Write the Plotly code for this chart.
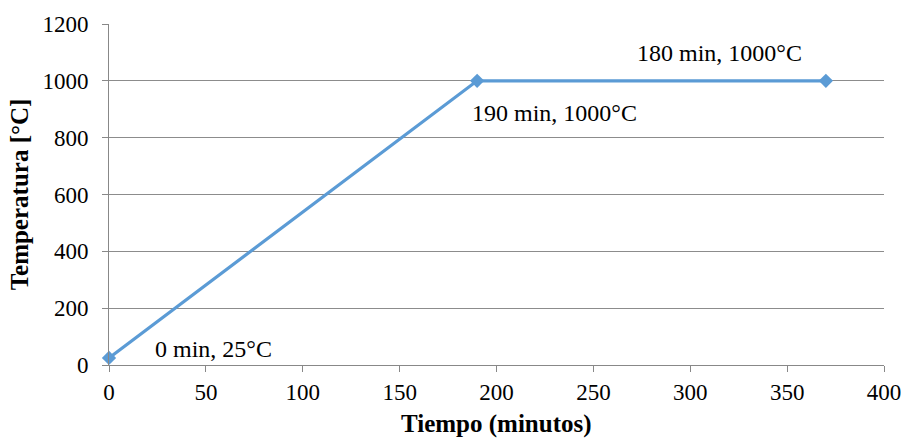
import plotly.graph_objects as go

tiempo = [0, 190, 370]
temperatura = [25, 1000, 1000]
etiquetas = ["0 min, 25°C", "190 min, 1000°C", "180 min, 1000°C"]
# label offsets in pixels (dx, dy)
offsets = [(104, 9), (77, -32), (-106, 28)]

FONT = "Liberation Serif, Times New Roman, serif"
BLUE = "#5B9BD5"

fig = go.Figure()
fig.add_trace(go.Scatter(
    x=tiempo, y=temperatura, mode="lines+markers",
    line=dict(color=BLUE, width=3.2),
    marker=dict(symbol="diamond", size=11, color=BLUE),
    showlegend=False, cliponaxis=False,
))

for xv, yv, t, (dx, dy) in zip(tiempo, temperatura, etiquetas, offsets):
    fig.add_annotation(x=xv, y=yv, text=t, showarrow=False,
                       xshift=dx, yshift=dy,
                       font=dict(family=FONT, size=24, color="black"))

# x-axis title as annotation for exact placement
fig.add_annotation(x=0.5, y=0, xref="paper", yref="paper", xanchor="center", yanchor="top",
                   yshift=-43, showarrow=False, text="<b>Tiempo (minutos)</b>",
                   font=dict(family=FONT, size=25, color="black"))

fig.update_layout(
    width=904, height=439,
    margin=dict(l=109, r=20, t=24, b=74),
    paper_bgcolor="white", plot_bgcolor="white",
    font=dict(family=FONT, size=23, color="black"),
)
fig.update_xaxes(
    range=[0, 400], tickvals=[0, 50, 100, 150, 200, 250, 300, 350, 400],
    showgrid=False, showline=True, linecolor="#888888", linewidth=1,
    ticks="outside", ticklen=6, tickcolor="#888888",
    tickfont=dict(family=FONT, size=23), automargin=False,
    zeroline=False,
)
fig.update_yaxes(
    range=[0, 1200], tickvals=[0, 200, 400, 600, 800, 1000, 1200],
    showgrid=True, gridcolor="#8c8c8c", gridwidth=1,
    showline=True, linecolor="#888888", linewidth=1,
    ticks="outside", ticklen=6, tickcolor="#888888",
    tickfont=dict(family=FONT, size=23), ticklabelstandoff=9, automargin=False,
    title=dict(text="<b>Temperatura [°C]</b>", font=dict(family=FONT, size=25), standoff=6),
    zeroline=False,
)

fig.write_html("out.html")
